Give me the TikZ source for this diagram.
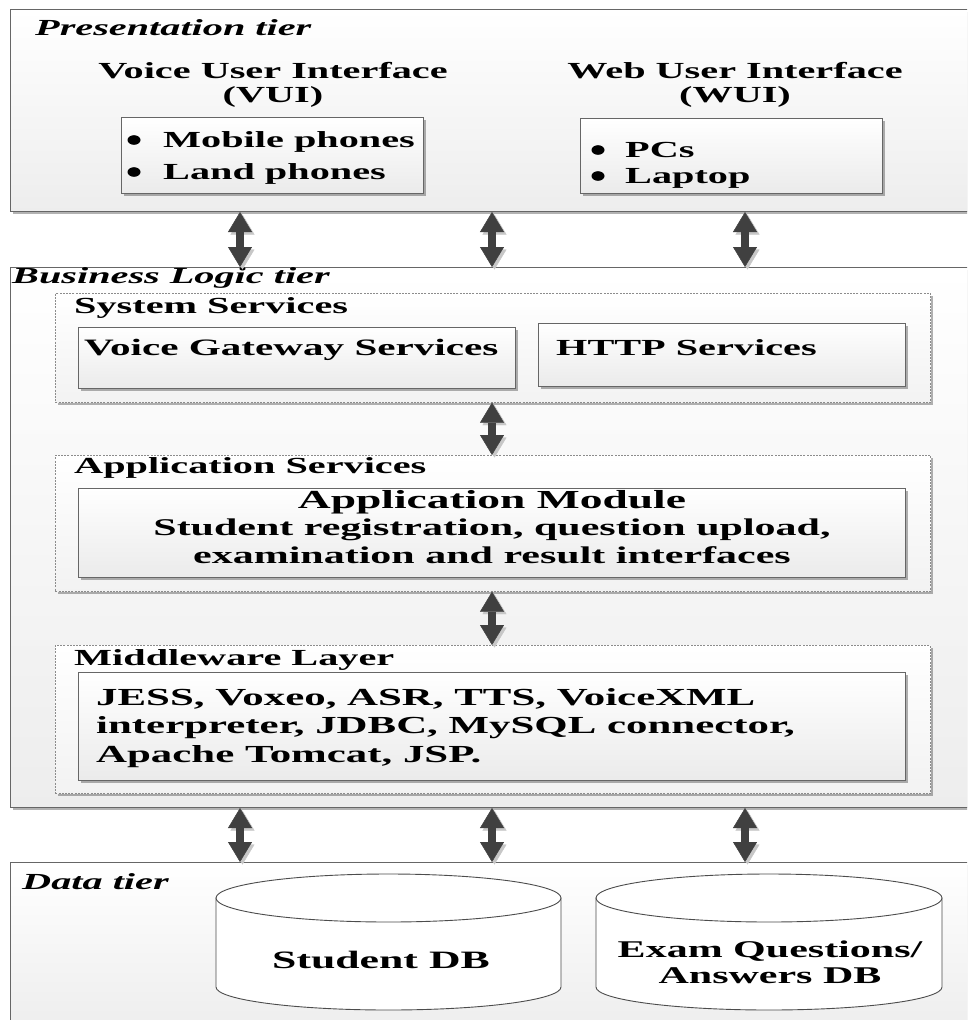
\documentclass[tikz,border=0pt]{standalone}
\usepackage{fontspec}
\setmainfont{Liberation Serif}[FakeStretch=1.75]
\usetikzlibrary{arrows.meta,shadows}
\begin{document}
\begin{tikzpicture}[x=1pt,y=-1pt,
  shad/.style={drop shadow={shadow xshift=2.5pt,shadow yshift=-2.5pt,opacity=0.3,fill=black}},
  tier/.style={draw=black!60,line width=1pt,top color=white,bottom color=black!7,rectangle,inner sep=0pt,anchor=north west,shad},
  dbox/.style={draw=black!45,dash pattern=on 2pt off 1.2pt,line width=0.7pt,top color=white,bottom color=black!5,rectangle,inner sep=0pt,anchor=north west,shad},
  ibox/.style={draw=black!60,line width=0.9pt,top color=white,bottom color=black!8,rectangle,inner sep=0pt,anchor=north west,shad},
  txt/.style={font=\fontsize{23}{26}\selectfont\bfseries,inner sep=0pt,anchor=base},
  txtl/.style={txt,anchor=base west},
  big/.style={font=\fontsize{24.5}{28}\selectfont\bfseries},
  lbl/.style={font=\fontsize{23}{26}\selectfont\bfseries\itshape,inner sep=0pt,anchor=base west},
  bul/.style={fill=black},
  arr/.style={draw=black!75,line width=8pt,
    {Triangle[length=20pt,width=24pt,line width=0.4pt]}-{Triangle[length=20pt,width=24pt,line width=0.4pt]},
    preaction={draw=black!22,transform canvas={shift={(2.5pt,-2.5pt)}}}},
  cyl/.style={draw=black!70,line width=0.9pt,fill=white}
]
\useasboundingbox (0,0) rectangle (967,1020);
\clip (0,0) rectangle (967,1020);

% ---------- tiers ----------
\node[tier,minimum width=965pt,minimum height=202pt] (pres) at (10,9) {};
\node[tier,minimum width=965pt,minimum height=540pt] (biz) at (10,267) {};
\node[tier,minimum width=965pt,minimum height=170pt] (data) at (10,862) {};

% ---------- presentation tier ----------
\node[lbl] (plbl) at (35,35) {Presentation tier};
\node[txt] (vui1) at (273,78) {Voice User Interface};
\node[txt] (vui2) at (273,102) {(VUI)};
\node[txt] (wui1) at (735,78) {Web User Interface};
\node[txt] (wui2) at (735,102) {(WUI)};
\node[ibox,minimum width=302pt,minimum height=76pt] (vuibox) at (121,117) {};
\node[ibox,minimum width=302pt,minimum height=75pt] (wuibox) at (580,118) {};
\fill[bul] (134,140) ellipse [x radius=6.5,y radius=4.8];
\fill[bul] (134,172) ellipse [x radius=6.5,y radius=4.8];
\fill[bul] (598,150) ellipse [x radius=6.5,y radius=4.8];
\fill[bul] (598,176) ellipse [x radius=6.5,y radius=4.8];
\node[txtl] (mob) at (163,147) {Mobile phones};
\node[txtl] (land) at (163,179) {Land phones};
\node[txtl] (pcs) at (625,157) {PCs};
\node[txtl] (lap) at (625,183) {Laptop};

% ---------- business logic tier ----------
\node[lbl] (blbl) at (12,283) {Business Logic tier};
\node[dbox,minimum width=875pt,minimum height=109pt] (sys) at (55,293) {};
\node[txtl] (syslbl) at (74,313) {System Services};
\node[ibox,minimum width=437pt,minimum height=61pt] (vgs) at (78,327) {};
\node[ibox,minimum width=367pt,minimum height=63pt] (http) at (538,323) {};
\node[txtl,font=\fontsize{23.5}{26}\selectfont\bfseries] (vgst) at (84,355) {Voice Gateway Services};
\node[txtl] (httpt) at (556,355) {HTTP Services};

\node[dbox,minimum width=875pt,minimum height=136pt] (app) at (55,455) {};
\node[txtl] (applbl) at (74,473) {Application Services};
\node[ibox,minimum width=827pt,minimum height=89pt] (appm) at (78,488) {};
\node[txt,font=\fontsize{26}{28}\selectfont\bfseries] (appm1) at (492,508) {Application Module};
\node[txt,font=\fontsize{24}{28}\selectfont\bfseries] (appm2) at (492,535) {Student registration, question upload,};
\node[txt,font=\fontsize{24}{28}\selectfont\bfseries] (appm3) at (492,563) {examination and result interfaces};

\node[dbox,minimum width=875pt,minimum height=148pt] (mid) at (55,645) {};
\node[txtl] (midlbl) at (74,665) {Middleware Layer};
\node[ibox,minimum width=827pt,minimum height=108pt] (midm) at (78,672) {};
\node[txtl,big] (mid1) at (96,705) {JESS, Voxeo, ASR, TTS, VoiceXML};
\node[txtl,big] (mid2) at (96,733) {interpreter, JDBC, MySQL connector,};
\node[txtl,big] (mid3) at (96,762) {Apache Tomcat, JSP.};

% ---------- data tier ----------
\node[lbl] (dlbl) at (22,889) {Data tier};
\path[cyl] (216,898) -- (216,987) arc[start angle=180,end angle=0,x radius=172.5,y radius=23] -- (561,898) -- cycle;
\draw[cyl] (388.5,898) ellipse [x radius=172.5,y radius=24];
\path[cyl] (596,898) -- (596,987) arc[start angle=180,end angle=0,x radius=173,y radius=23] -- (942,898) -- cycle;
\draw[cyl] (769,898) ellipse [x radius=173,y radius=24];
\node[txt,font=\fontsize{25}{28}\selectfont\bfseries] (sdb) at (381,968) {Student DB};
\node[txt,font=\fontsize{24}{28}\selectfont\bfseries] (eq1) at (770,957) {Exam Questions/};
\node[txt,font=\fontsize{24}{28}\selectfont\bfseries] (eq2) at (770,983) {Answers DB};

% ---------- connectors ----------
\coordinate (c1) at (240,0);
\coordinate (c2) at (492,0);
\coordinate (c3) at (745,0);
\draw[arr] (pres.south -| c1) -- (biz.north -| c1);
\draw[arr] (pres.south -| c2) -- (biz.north -| c2);
\draw[arr] (pres.south -| c3) -- (biz.north -| c3);
\draw[arr] (sys.south -| c2) -- (app.north -| c2);
\draw[arr] (app.south -| c2) -- (mid.north -| c2);
\draw[arr] (biz.south -| c1) -- (data.north -| c1);
\draw[arr] (biz.south -| c2) -- (data.north -| c2);
\draw[arr] (biz.south -| c3) -- (data.north -| c3);
\end{tikzpicture}
\end{document}
